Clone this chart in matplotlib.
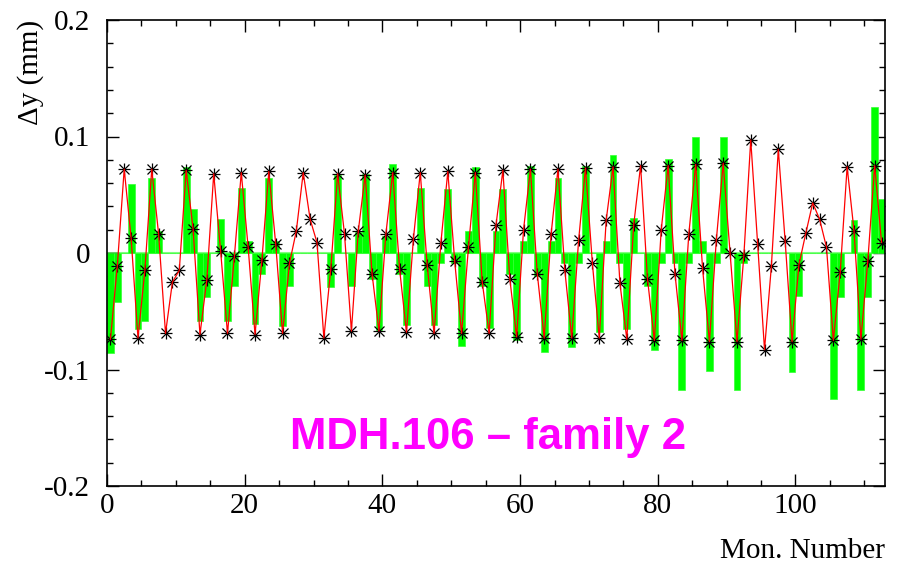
import numpy as np
import matplotlib
matplotlib.use("Agg")
import matplotlib.pyplot as plt

# measured dy per monitor (stars, joined by red line)
dy_meas = [-0.074, -0.011, 0.072, 0.013, -0.073, -0.015, 0.072, 0.016, -0.069, -0.025,
           -0.015, 0.071, 0.021, -0.070, -0.023, 0.068, 0.002, -0.069, -0.003, 0.069,
           0.005, -0.070, -0.006, 0.070, 0.008, -0.069, -0.009, 0.019, 0.069, 0.029,
           0.009, -0.073, -0.014, 0.068, 0.016, -0.067, 0.019, 0.067, -0.018, -0.067,
           0.016, 0.069, -0.014, -0.068, 0.012, 0.069, -0.010, -0.069, 0.009, 0.070,
           -0.007, -0.069, 0.005, 0.069, -0.025, -0.069, 0.024, 0.071, -0.022, -0.072,
           0.020, 0.072, -0.018, -0.073, 0.016, 0.072, -0.015, -0.073, 0.011, 0.073,
           -0.009, -0.073, 0.028, 0.074, -0.026, -0.074, 0.024, 0.075, -0.022, -0.075,
           0.020, 0.075, -0.018, -0.075, 0.016, 0.076, -0.013, -0.076, 0.011, 0.077,
           0.000, -0.076, -0.002, 0.097, 0.008, -0.083, -0.011, 0.089, 0.010, -0.076,
           -0.010, 0.017, 0.043, 0.029, 0.005, -0.075, -0.016, 0.074, 0.019, -0.074,
           -0.007, 0.075, 0.009]

# histogram contents (green bars)
dy_hist = [-0.086, -0.042, 0.0, 0.059, -0.065, -0.058, 0.064, 0.019, 0.0, 0.0,
           0.0, 0.074, 0.038, -0.058, -0.038, 0.0, 0.029, -0.058, -0.028, 0.056,
           0.010, -0.061, -0.018, 0.064, 0.010, -0.063, -0.028, 0.0, 0.0, 0.0,
           0.0, 0.0, -0.029, 0.067, 0.0, -0.028, 0.018, 0.068, -0.022, -0.066,
           0.015, 0.076, -0.018, -0.062, 0.0, 0.056, -0.028, -0.062, -0.009, 0.055,
           -0.009, -0.080, 0.019, 0.074, -0.028, -0.064, 0.019, 0.055, -0.018, -0.075,
           0.010, 0.075, -0.020, -0.085, 0.010, 0.064, -0.009, -0.081, -0.009, 0.075,
           0.0, -0.068, 0.010, 0.084, -0.009, -0.065, 0.030, 0.0, -0.028, -0.083,
           -0.009, 0.081, -0.009, -0.118, -0.009, 0.100, 0.010, -0.101, -0.009, 0.100,
           0.0, -0.118, -0.009, 0.0, 0.0, 0.0, 0.0, 0.0, 0.0, -0.102,
           -0.037, 0.0, 0.0, 0.0, 0.0, -0.125, -0.038, 0.0, 0.028, -0.118,
           -0.038, 0.125, 0.046]

n_mon = len(dy_meas)
edges = np.arange(n_mon)
centers = edges + 0.5

fig = plt.figure(figsize=(9.03, 5.63), dpi=100)
ax = fig.add_axes([107/903, 1-486/563, (885-107)/903, (486-20)/563])

ax.plot([0, n_mon], [0, 0], color='#80ff80', lw=1.5, zorder=1)
ax.bar(edges, dy_hist, width=1.0, align='edge', color='#00ff00',
       edgecolor='#33ff33', linewidth=0.5, zorder=2)

ax.plot(centers, dy_meas, ls='none', marker='+', ms=8.5, mew=0.9, color='black', zorder=3)
ax.plot(centers, dy_meas, ls='none', marker='x', ms=6.5, mew=0.9, color='black', zorder=3)
ax.plot(centers, dy_meas, color='red', lw=0.9, zorder=4)

ax.set_xlim(0, 113)
ax.set_ylim(-0.2, 0.2)

serif = 'Liberation Serif'
ax.set_xticks([0, 20, 40, 60, 80, 100])
ax.set_xticks(np.arange(0, 114, 5), minor=True)
ax.set_yticks([-0.2, -0.1, 0, 0.1, 0.2])
ax.set_yticklabels(['-0.2', '-0.1', '0', '0.1', '0.2'])
ax.set_yticks(np.arange(-0.2, 0.201, 0.02), minor=True)
for lab in ax.get_xticklabels() + ax.get_yticklabels():
    lab.set_family(serif)
    lab.set_fontsize(21)

ax.tick_params(which='both', direction='in', top=True, right=True, width=1)
ax.tick_params(which='major', length=8.5)
ax.tick_params(which='minor', length=4.5)
ax.tick_params(axis='x', pad=5)
ax.tick_params(axis='y', pad=12)
for s in ax.spines.values():
    s.set_linewidth(1.2)

fig.text(31/903, 1-20/563, '\u0394y (mm)', rotation=90, ha='center', va='top',
         family=serif, fontsize=21)
fig.text(885/903, 1-551/563, 'Mon. Number', ha='right', va='center',
         family=serif, fontsize=21)
fig.text(488/903, 1-437/563, 'MDH.106 \u2013 family 2', ha='center', va='center',
         family='Liberation Sans', fontweight='bold', fontsize=31.5, color='#ff00ff')

fig.savefig('out.png', dpi=100)
